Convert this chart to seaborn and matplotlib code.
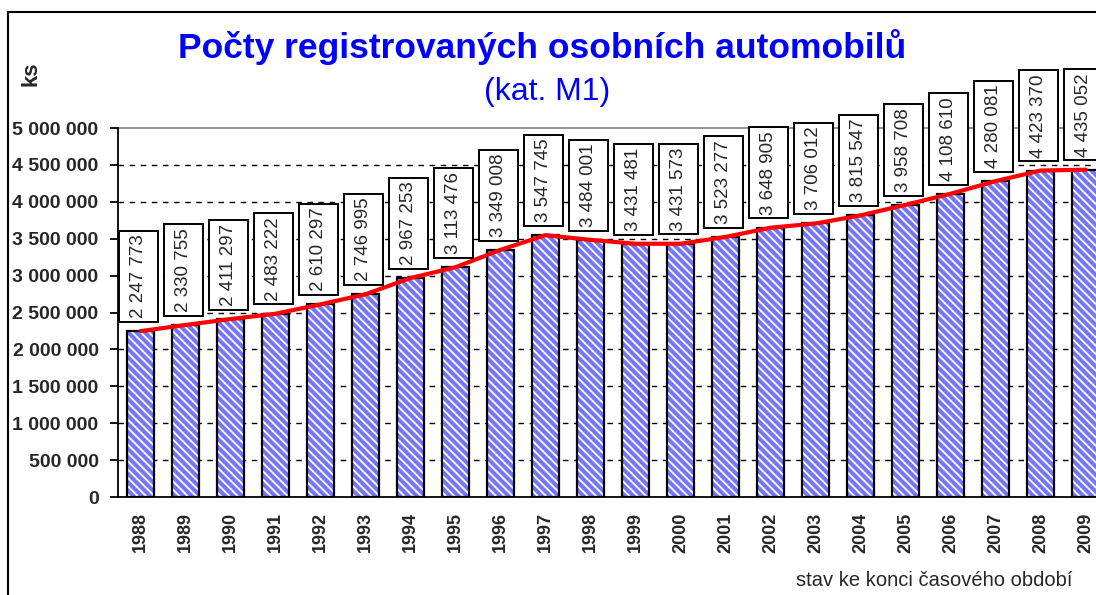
import numpy as np
import pandas as pd
import matplotlib
matplotlib.use("Agg")
import matplotlib.pyplot as plt
import seaborn as sns
from matplotlib.patches import Rectangle
from matplotlib.path import Path
from matplotlib import font_manager

years = ["1988", "1989", "1990", "1991", "1992", "1993", "1994", "1995", "1996", "1997", "1998",
         "1999", "2000", "2001", "2002", "2003", "2004", "2005", "2006", "2007", "2008", "2009"]
values = [2247773, 2330755, 2411297, 2483222, 2610297, 2746995, 2967253, 3113476, 3349008, 3547745,
          3484001, 3431481, 3431573, 3523277, 3648905, 3706012, 3815547, 3958708, 4108610, 4280081,
          4423370, 4435052]
yticks = [0, 500000, 1000000, 1500000, 2000000, 2500000, 3000000, 3500000, 4000000, 4500000, 5000000]
title = "Počty registrovaných osobních automobilů"
subtitle = "(kat. M1)"
ylabel = "ks"
note = "stav ke konci časového období"

def fmt(v):
    return f"{v:,}".replace(",", " ")

sns.set_theme(style="white")
plt.rcParams['font.family'] = ['Liberation Sans', 'DejaVu Sans']
plt.rcParams['hatch.linewidth'] = 1.3
plt.rcParams['hatch.color'] = 'white'

installed = {f.name for f in font_manager.fontManager.ttflist}
narrow = 'Liberation Sans Narrow' if 'Liberation Sans Narrow' in installed else 'Liberation Sans'
label_size = 16 if narrow == 'Liberation Sans Narrow' else 13.5

def labelbox(x0, y0, width, height, mutation_size):
    pa = 0.2 * mutation_size   # along text
    pc = 0.6 * mutation_size   # across text
    verts = [(x0 - pa, y0 - pc), (x0 + width + pa, y0 - pc), (x0 + width + pa, y0 + height + pc),
             (x0 - pa, y0 + height + pc), (x0 - pa, y0 - pc)]
    return Path(verts, [Path.MOVETO, Path.LINETO, Path.LINETO, Path.LINETO, Path.CLOSEPOLY])

df = pd.DataFrame({"year": years, "value": values})

fig = plt.figure(figsize=(10.96, 5.95), dpi=100)
ax = fig.add_axes([118/1096, 1-497/595, 990/1096, (497-128)/595])

# bar fill with white hatch
sns.barplot(data=df, x="year", y="value", ax=ax, color="#7676F8", width=0.58,
            edgecolor="white", linewidth=0, saturation=1, zorder=2)
for p in ax.patches:
    p.set_hatch("\\\\\\\\")
    p.set_edgecolor("white")
    p.set_linewidth(0)
# black outline
sns.barplot(data=df, x="year", y="value", ax=ax, fill=False, width=0.58,
            edgecolor="black", linewidth=1.6, zorder=3)

# red trend line
sns.lineplot(x=np.arange(len(values)), y=values, ax=ax, color="red", linewidth=3,
             zorder=4, sort=False)

# labels with boxes
for i, v in enumerate(values):
    ax.annotate(fmt(v), xy=(i, v), xytext=(-2, 13), textcoords="offset pixels",
                rotation=90, ha="center", va="bottom", fontsize=label_size, family=[narrow, 'DejaVu Sans'],
                bbox=dict(boxstyle=labelbox, facecolor="white", edgecolor="black", linewidth=1.4),
                zorder=6, annotation_clip=False)

ax.set_ylim(0, 5000000)
ax.set_xlim(-0.5, len(years) - 0.5)
ax.set_yticks(yticks)
ax.set_yticklabels([fmt(t) for t in yticks], fontsize=14, fontweight="bold")
ax.set_xticks(np.arange(len(years)))
ax.set_xticklabels(years, rotation=90, fontsize=13, fontweight="bold")
ax.set_xticks(np.arange(len(years) + 1) - 0.5, minor=True)
ax.tick_params(axis="x", which="major", length=0, pad=11)
ax.tick_params(axis="x", which="minor", length=5, width=1.3, color="black", direction="out")
ax.tick_params(axis="y", length=6, width=1.3, color="black", direction="out", left=True, pad=8)
ax.set_xlabel("")
ax.set_ylabel("")

for t in yticks[1:-1]:
    ax.axhline(t, color="black", linestyle=(0, (4, 4)), linewidth=1, zorder=1)

ax.spines["left"].set_color("black")
ax.spines["left"].set_linewidth(1.3)
ax.spines["bottom"].set_color("black")
ax.spines["bottom"].set_linewidth(1.3)
ax.spines["top"].set_color("#808080")
ax.spines["top"].set_linewidth(1.2)
ax.spines["top"].set_zorder(0)
ax.spines["right"].set_visible(False)

fig.text(542/1096, 1-47/595, title, color="#0000FF", fontsize=25.5, fontweight="bold",
         ha="center", va="center")
fig.text(547/1096, 1-92/595, subtitle, color="#0000FF", fontsize=23,
         ha="center", va="center")
fig.text(31/1096, 1-74/595, ylabel, fontsize=16, fontweight="bold", rotation=90,
         ha="center", va="center")
fig.text(1072/1096, 1-580/595, note, fontsize=14.5, ha="right", va="center")

fig.patches.append(Rectangle((8/1096, -0.05), 1.2, (595-12)/595 + 0.05,
                             transform=fig.transFigure, fill=False, edgecolor="black",
                             linewidth=1.5, zorder=10))

fig.savefig("out.png", dpi=100)
